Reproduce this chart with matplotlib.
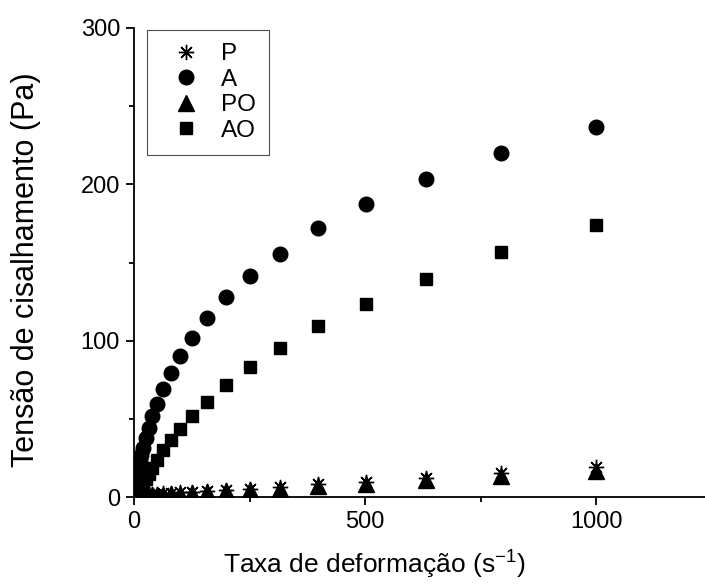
import matplotlib
matplotlib.use("Agg")
import matplotlib.pyplot as plt
from matplotlib.ticker import MultipleLocator

plt.rcParams['font.family'] = ['Liberation Sans', 'DejaVu Sans']
plt.rcParams['mathtext.default'] = 'regular'

# Shear rate (s^-1), logarithmic sweep
shear_rate = [1, 1.26, 1.58, 2, 2.51, 3.16, 3.98, 5.01, 6.31, 7.94,
              10, 12.6, 15.8, 20, 25.1, 31.6, 39.8, 50.1, 63.1, 79.4,
              100, 126, 158, 200, 251, 316, 398, 501, 631, 794, 1000]

# Shear stress (Pa) for each sample
stress_P = [0.2, 0.25, 0.3, 0.35, 0.4, 0.45, 0.5, 0.55, 0.65, 0.75,
            0.85, 1.0, 1.15, 1.3, 1.5, 1.7, 1.9, 2.1, 2.4, 2.7,
            3.0, 3.3, 3.8, 4.4, 5.3, 6.5, 8.0, 9.9, 12.3, 15.3, 19.0]
stress_A = [4.0, 4.6, 5.4, 6.3, 7.4, 8.7, 10.2, 12.0, 14.2, 16.8,
            19.8, 23.0, 27.0, 31.2, 37.6, 44.0, 51.5, 59.8, 69.2, 79.3,
            90.4, 101.7, 114.5, 128.0, 141.2, 155.7, 171.8, 187.4, 203.2, 219.9, 236.7]
stress_PO = [0.15, 0.17, 0.19, 0.22, 0.25, 0.28, 0.31, 0.35, 0.39, 0.44,
             0.5, 0.56, 0.63, 0.72, 0.82, 0.95, 1.1, 1.3, 1.5, 1.8,
             2.1, 2.5, 3.0, 3.6, 4.4, 5.4, 6.8, 8.5, 10.8, 13.5, 16.8]
stress_AO = [0.8, 0.9, 1.1, 1.3, 1.6, 1.9, 2.3, 2.8, 3.4, 4.2,
             5.1, 6.3, 7.8, 9.6, 11.8, 14.5, 18.4, 23.7, 30.0, 36.5,
             43.8, 51.7, 60.9, 71.6, 82.9, 95.3, 109.2, 123.7, 139.6, 156.4, 174.2]

labels = ['P', 'A', 'PO', 'AO']

fig = plt.figure(figsize=(7.05, 5.84), dpi=100)
ax = fig.add_axes([134 / 705, 1 - 497 / 584, (705 - 134) / 705, (497 - 28) / 584])

ax.plot(shear_rate, stress_P, linestyle='none', marker=(8, 2, 0), markersize=11,
        color='black', markeredgewidth=1.0, label=labels[0], zorder=3)
ax.plot(shear_rate, stress_A, linestyle='none', marker='o', markersize=10.5,
        color='black', label=labels[1], zorder=3)
ax.plot(shear_rate, stress_PO, linestyle='none', marker='^', markersize=11,
        color='black', label=labels[2], zorder=4)
ax.plot(shear_rate, stress_AO, linestyle='none', marker='s', markersize=9,
        color='black', label=labels[3], zorder=3)

ax.set_xlim(0, 1235)
ax.set_ylim(0, 300)
ax.xaxis.set_major_locator(MultipleLocator(500))
ax.xaxis.set_minor_locator(MultipleLocator(250))
ax.yaxis.set_major_locator(MultipleLocator(100))
ax.yaxis.set_minor_locator(MultipleLocator(50))

for side in ('top', 'right'):
    ax.spines[side].set_visible(False)
for side in ('left', 'bottom'):
    ax.spines[side].set_linewidth(1.3)

ax.tick_params(which='major', direction='out', length=6, width=1.3, labelsize=17, pad=4)
ax.tick_params(which='minor', direction='out', length=3.5, width=1.3)

ax.set_xlabel('Taxa de deformação (s$^{-1}$)', fontsize=19)
ax.set_ylabel('Tensão de cisalhamento (Pa)', fontsize=22)
ax.xaxis.set_label_coords(0.42, -0.11)
ax.yaxis.set_label_coords(-0.163, 0.485)

leg = ax.legend(loc='upper left', bbox_to_anchor=(13 / 571, 1 - 2 / 469),
                borderaxespad=0, fontsize=17.5,
                frameon=True, fancybox=False, edgecolor='#222222',
                handletextpad=0.4, borderpad=0.55, labelspacing=0.14,
                handlelength=2.1, markerscale=1.0)
leg.get_frame().set_linewidth(0.8)

fig.savefig('out.png', dpi=100)
